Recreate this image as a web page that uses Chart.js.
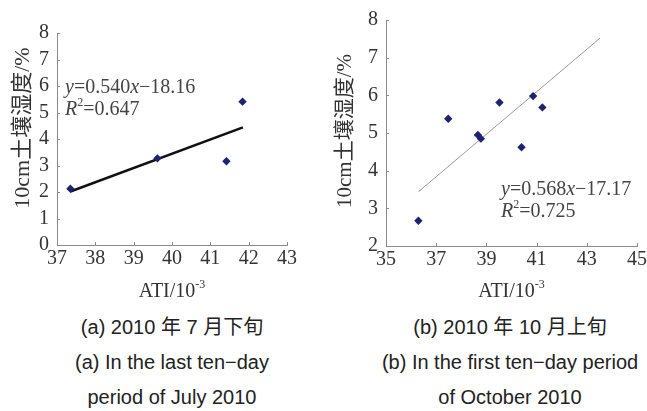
<!DOCTYPE html>
<html>
<head>
<meta charset="utf-8">
<script src="https://cdn.jsdelivr.net/npm/chart.js@4.4.1/dist/chart.umd.min.js"></script>
<style>
  body { margin: 0; background: #fff; width: 647px; height: 411px; overflow: hidden; position: relative; }
  .box { position: absolute; top: 0; height: 310px; }
  .cap { position: absolute; top: 310px; width: 320px; text-align: center;
         font-family: "Liberation Sans", Arial, "Noto Sans CJK SC", sans-serif;
         font-size: 20px; line-height: 35px; color: #222; white-space: nowrap; }
</style>
</head>
<body>
<div class="box" style="left:0;width:320px"><canvas id="chartA"></canvas></div>
<div class="box" style="left:320px;width:340px"><canvas id="chartB"></canvas></div>
<div class="cap" style="left:12px">(a) 2010 年 7 月下旬<br>(a) In the last ten−day<br>period of July 2010</div>
<div class="cap" style="left:350px">(b) 2010 年 10 月上旬<br>(b) In the first ten−day period<br>of October 2010</div>
<script>
// dados (a) - julho
const julyAti = [37.35, 39.62, 41.42, 41.84];
const julyMoist = [2.12, 3.27, 3.16, 5.41];
const julyFitX = [37.35, 41.85];
const julyFitY = [2.02, 4.44];
const julyEq = ["y", "=0.540", "x", "−18.16"];
const julyR2 = "=0.647";
const julyTicksX = [37, 38, 39, 40, 41, 42, 43];
const julyTicksY = [0, 1, 2, 3, 4, 5, 6, 7, 8];

// dados (b) - outubro
const octAti = [36.29, 37.48, 38.66, 38.78, 39.52, 40.40, 40.86, 41.23];
const octMoist = [2.67, 5.38, 4.95, 4.85, 5.81, 4.62, 5.98, 5.68];
const octFitX = [36.29, 43.53];
const octFitY = [3.44, 7.52];
const octEq = ["y", "=0.568", "x", "−17.17"];
const octR2 = "=0.725";
const octTicksX = [35, 37, 39, 41, 43, 45];
const octTicksY = [2, 3, 4, 5, 6, 7, 8];

const yTitle = "10cm土壤湿度/%";
const SERIF = '"Liberation Serif", "Times New Roman", serif';

function toPoints(xs, ys) {
  return xs.map((x, i) => ({ x: x, y: ys[i] }));
}

// desenha texto com partes em itálico / sobrescrito
function drawParts(ctx, parts, x, y) {
  parts.forEach(p => {
    ctx.font = (p.it ? "italic " : "") + (p.sup ? "12px " : "20px ") + SERIF;
    ctx.fillText(p.t, x, p.sup ? y - 7 : y);
    x += ctx.measureText(p.t).width;
  });
}

function partsWidth(ctx, parts) {
  let w = 0;
  parts.forEach(p => {
    ctx.font = (p.it ? "italic " : "") + (p.sup ? "12px " : "20px ") + SERIF;
    w += ctx.measureText(p.t).width;
  });
  return w;
}

// títulos, equação e marcas internas dos eixos
const extras = {
  id: "extras",
  afterDraw(chart, args, opts) {
    const ctx = chart.ctx;
    const a = chart.chartArea;
    const sx = chart.scales.x, sy = chart.scales.y;
    ctx.save();

    // marcas para dentro
    ctx.strokeStyle = "#8a8a8a";
    ctx.lineWidth = 1;
    ctx.beginPath();
    sx.ticks.forEach(t => {
      const px = Math.round(sx.getPixelForValue(t.value)) + 0.5;
      ctx.moveTo(px, a.bottom);
      ctx.lineTo(px, a.bottom - 3);
    });
    sy.ticks.forEach(t => {
      const py = Math.round(sy.getPixelForValue(t.value)) + 0.5;
      ctx.moveTo(a.left, py);
      ctx.lineTo(a.left + 3, py);
    });
    ctx.stroke();

    ctx.fillStyle = "#333";
    ctx.textBaseline = "middle";

    // título do eixo x
    const xt = [{ t: "ATI/10" }, { t: "-3", sup: true }];
    const xw = partsWidth(ctx, xt);
    drawParts(ctx, xt, (a.left + a.right) / 2 - xw / 2, opts.xTitleY);

    // título do eixo y
    ctx.save();
    ctx.translate(opts.yTitleX, opts.yTitleY);
    ctx.rotate(-Math.PI / 2);
    ctx.font = opts.yTitleSize + 'px "Liberation Serif", "Noto Sans CJK SC", serif';
    ctx.textAlign = "center";
    ctx.fillText(yTitle, 0, 0);
    ctx.restore();

    // equação da reta
    ctx.fillStyle = "#444";
    const eq = opts.eq;
    drawParts(ctx, [{ t: eq[0], it: true }, { t: eq[1] }, { t: eq[2], it: true }, { t: eq[3] }], opts.eqX, opts.eqY);
    drawParts(ctx, [{ t: "R", it: true }, { t: "2", sup: true }, { t: opts.r2 }], opts.eqX, opts.eqY + 22);

    ctx.restore();
  }
};

function makeChart(id, cfg) {
  const ctx = document.getElementById(id).getContext("2d");
  return new Chart(ctx, {
    type: "scatter",
    data: {
      datasets: [
        {
          data: toPoints(cfg.xs, cfg.ys),
          pointStyle: "rectRot",
          pointRadius: 4.2,
          backgroundColor: "#1d2370",
          borderColor: "#1d2370",
          borderWidth: 0
        },
        {
          data: toPoints(cfg.fitX, cfg.fitY),
          showLine: true,
          pointRadius: 0,
          borderColor: cfg.lineColor,
          borderWidth: cfg.lineWidth
        }
      ]
    },
    options: {
      responsive: true,
      maintainAspectRatio: false,
      animation: false,
      layout: { padding: cfg.padding },
      plugins: {
        legend: { display: false },
        tooltip: { enabled: false },
        extras: cfg.extras
      },
      scales: {
        x: {
          type: "linear",
          min: cfg.ticksX[0],
          max: cfg.ticksX[cfg.ticksX.length - 1],
          afterBuildTicks: s => { s.ticks = cfg.ticksX.map(v => ({ value: v })); },
          afterFit: s => { s.height = cfg.xHeight; },
          grid: { display: false, drawTicks: false },
          border: { color: "#8a8a8a", width: 1 },
          ticks: { autoSkip: false, padding: 2, color: "#333", font: { family: SERIF, size: 20 }, maxRotation: 0 }
        },
        y: {
          min: cfg.ticksY[0],
          max: cfg.ticksY[cfg.ticksY.length - 1],
          afterBuildTicks: s => { s.ticks = cfg.ticksY.map(v => ({ value: v })); },
          afterFit: s => { s.width = cfg.yWidth; },
          grid: { display: false, drawTicks: false },
          border: { color: "#8a8a8a", width: 1 },
          ticks: { autoSkip: false, padding: 8, color: "#333", font: { family: SERIF, size: 20 } }
        }
      }
    },
    plugins: [extras]
  });
}

makeChart("chartA", {
  xs: julyAti, ys: julyMoist, fitX: julyFitX, fitY: julyFitY,
  ticksX: julyTicksX, ticksY: julyTicksY,
  lineColor: "#111", lineWidth: 2.5,
  padding: { left: 0, right: 33, top: 33, bottom: 0 },
  yWidth: 57, xHeight: 65,
  extras: { xTitleY: 292, yTitleX: 23, yTitleY: 128, yTitleSize: 22, eq: julyEq, r2: julyR2, eqX: 65, eqY: 88 }
});

makeChart("chartB", {
  xs: octAti, ys: octMoist, fitX: octFitX, fitY: octFitY,
  ticksX: octTicksX, ticksY: octTicksY,
  lineColor: "#9a9a9a", lineWidth: 1,
  padding: { left: 0, right: 23, top: 19, bottom: 0 },
  yWidth: 66, xHeight: 64,
  extras: { xTitleY: 292, yTitleX: 25, yTitleY: 131, yTitleSize: 21, eq: octEq, r2: octR2, eqX: 181, eqY: 190 }
});
</script>
</body>
</html>
